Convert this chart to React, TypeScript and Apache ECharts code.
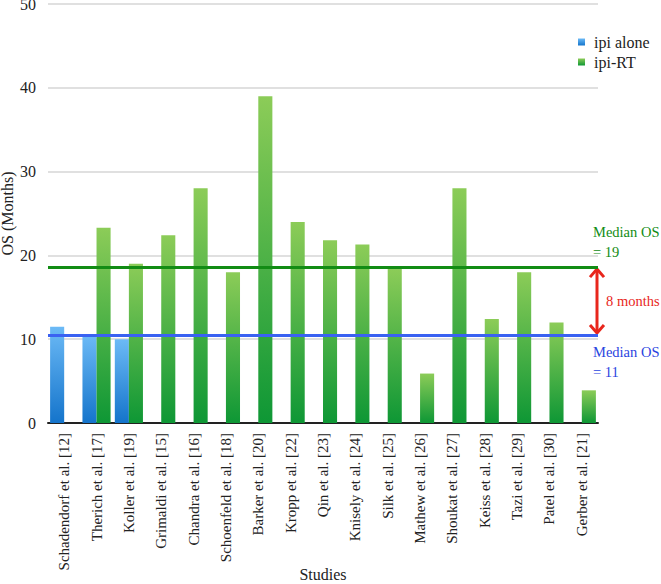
import React, { useEffect, useRef } from "react";
import * as echarts from "echarts";

const categories = [
  "Schadendorf et al. [12]",
  "Therich et al. [17]",
  "Koller et al. [19]",
  "Grimaldi et al. [15]",
  "Chandra et al. [16]",
  "Schoenfeld et al. [18]",
  "Barker et al. [20]",
  "Kropp et al. [22]",
  "Qin et al. [23]",
  "Knisely et al. [24]",
  "Silk et al. [25]",
  "Mathew et al. [26]",
  "Shoukat et al. [27]",
  "Keiss et al. [28]",
  "Tazi et al. [29]",
  "Patel et al. [30]",
  "Gerber et al. [21]",
];

const ipiAlone = [11.5, 10.5, 10.0, null, null, null, null, null, null, null, null, null, null, null, null, null, null];
const ipiRT = [null, 23.3, 19.0, 22.4, 28.0, 18.0, 39.0, 24.0, 21.8, 21.3, 18.4, 5.9, 28.0, 12.4, 18.0, 12.0, 3.9];

const medianValues = [18.6, 10.5];
const medianTexts = ["= 19", "= 11"];
const differenceText = "8 months";

const yTicks = [0, 10, 20, 30, 40, 50];

const FONT = "Liberation Serif";
const GREEN_LINE = "#128c14";
const BLUE_LINE = "#3a62f2";
const RED = "#e8261c";

export default function App() {
  const ref = useRef<HTMLDivElement>(null);

  useEffect(() => {
    if (!ref.current) return;
    const chart = echarts.init(ref.current, undefined, { renderer: "svg" });

    const blueGrad = new echarts.graphic.LinearGradient(0, 0, 0, 1, [
      { offset: 0, color: "#6cbaf6" },
      { offset: 1, color: "#1474cb" },
    ]);
    const greenGrad = new echarts.graphic.LinearGradient(0, 0, 0, 1, [
      { offset: 0, color: "#8ccc58" },
      { offset: 1, color: "#0e9735" },
    ]);

    chart.setOption({
      animation: false,
      backgroundColor: "#ffffff",
      textStyle: { fontFamily: FONT },
      grid: { left: 48, right: 63, top: 4, bottom: 161, containLabel: false, outerBoundsMode: "none" },
      legend: {
        orient: "vertical",
        left: 573,
        top: 29,
        icon: "rect",
        itemWidth: 7,
        itemHeight: 7,
        itemGap: 4,
        data: ["ipi alone", "ipi-RT"],
        textStyle: { fontFamily: FONT, fontSize: 16, color: "#222", padding: [0, 0, 0, 4] },
      },
      xAxis: {
        type: "category",
        data: categories,
        name: "Studies",
        nameLocation: "middle",
        nameGap: 143,
        nameMoveOverlap: false,
        nameTextStyle: { fontFamily: FONT, fontSize: 16, color: "#222" },
        axisLine: { lineStyle: { color: "#222", width: 2 } },
        axisTick: { show: false },
        axisLabel: {
          rotate: 90,
          interval: 0,
          margin: 10,
          fontFamily: FONT,
          fontSize: 15,
          color: "#222",
        },
      },
      yAxis: {
        type: "value",
        min: yTicks[0],
        max: yTicks[yTicks.length - 1],
        interval: 10,
        name: "OS (Months)",
        nameLocation: "middle",
        nameGap: 33,
        nameMoveOverlap: false,
        nameTextStyle: { fontFamily: FONT, fontSize: 16, color: "#222" },
        axisLine: { show: false },
        axisTick: { show: false },
        axisLabel: { fontFamily: FONT, fontSize: 16, color: "#222", margin: 12 },
        splitLine: { lineStyle: { color: "#d6d6d6", width: 1.5 } },
      },
      series: [
        {
          name: "ipi alone",
          type: "bar",
          data: ipiAlone,
          barGap: "0%",
          barCategoryGap: "13%",
          itemStyle: { color: blueGrad },
        },
        {
          name: "ipi-RT",
          type: "bar",
          data: ipiRT,
          barGap: "0%",
          barCategoryGap: "13%",
          itemStyle: { color: greenGrad },
          markLine: {
            silent: true,
            symbol: "none",
            label: { show: false },
            data: [
              { yAxis: medianValues[0], lineStyle: { color: GREEN_LINE, width: 3, type: "solid" } },
              { yAxis: medianValues[1], lineStyle: { color: BLUE_LINE, width: 3, type: "solid" } },
            ],
          },
        },
      ],
    });

    const x0 = chart.convertToPixel({ xAxisIndex: 0 }, categories[0]) as number;
    const x1 = chart.convertToPixel({ xAxisIndex: 0 }, categories[1]) as number;
    const xl = chart.convertToPixel({ xAxisIndex: 0 }, categories[categories.length - 1]) as number;
    const band = x1 - x0;
    const right = xl + band / 2;
    const yG = chart.convertToPixel({ yAxisIndex: 0 }, medianValues[0]) as number;
    const yB = chart.convertToPixel({ yAxisIndex: 0 }, medianValues[1]) as number;
    const ax = right - 1;

    const txt = (x: number, y: number, text: string, color: string, va: string) => ({
      type: "text",
      x,
      y,
      style: { text, fill: color, font: `14.5px "${FONT}"`, verticalAlign: va, lineHeight: 20 },
      silent: true,
    });

    chart.setOption({
      graphic: [
        txt(right - 5, yG - 5, "Median OS\n" + medianTexts[0], GREEN_LINE, "bottom"),
        txt(right - 5, yB + 7, "Median OS\n" + medianTexts[1], "#2a44e0", "top"),
        txt(ax + 9, (yG + yB) / 2, differenceText, RED, "middle"),
        {
          type: "line",
          shape: { x1: ax, y1: yG + 2, x2: ax, y2: yB - 2 },
          style: { stroke: RED, lineWidth: 3 },
          silent: true,
        },
        {
          type: "polyline",
          shape: { points: [[ax - 7, yG + 10], [ax, yG + 2], [ax + 7, yG + 10]] },
          style: { stroke: RED, lineWidth: 3, fill: null },
          silent: true,
        },
        {
          type: "polyline",
          shape: { points: [[ax - 7, yB - 10], [ax, yB - 2], [ax + 7, yB - 10]] },
          style: { stroke: RED, lineWidth: 3, fill: null },
          silent: true,
        },
      ],
    });

    return () => chart.dispose();
  }, []);

  return (
    <div
      ref={ref}
      style={{ position: "fixed", left: 0, top: 0, width: 661, height: 584, background: "#fff" }}
    />
  );
}
